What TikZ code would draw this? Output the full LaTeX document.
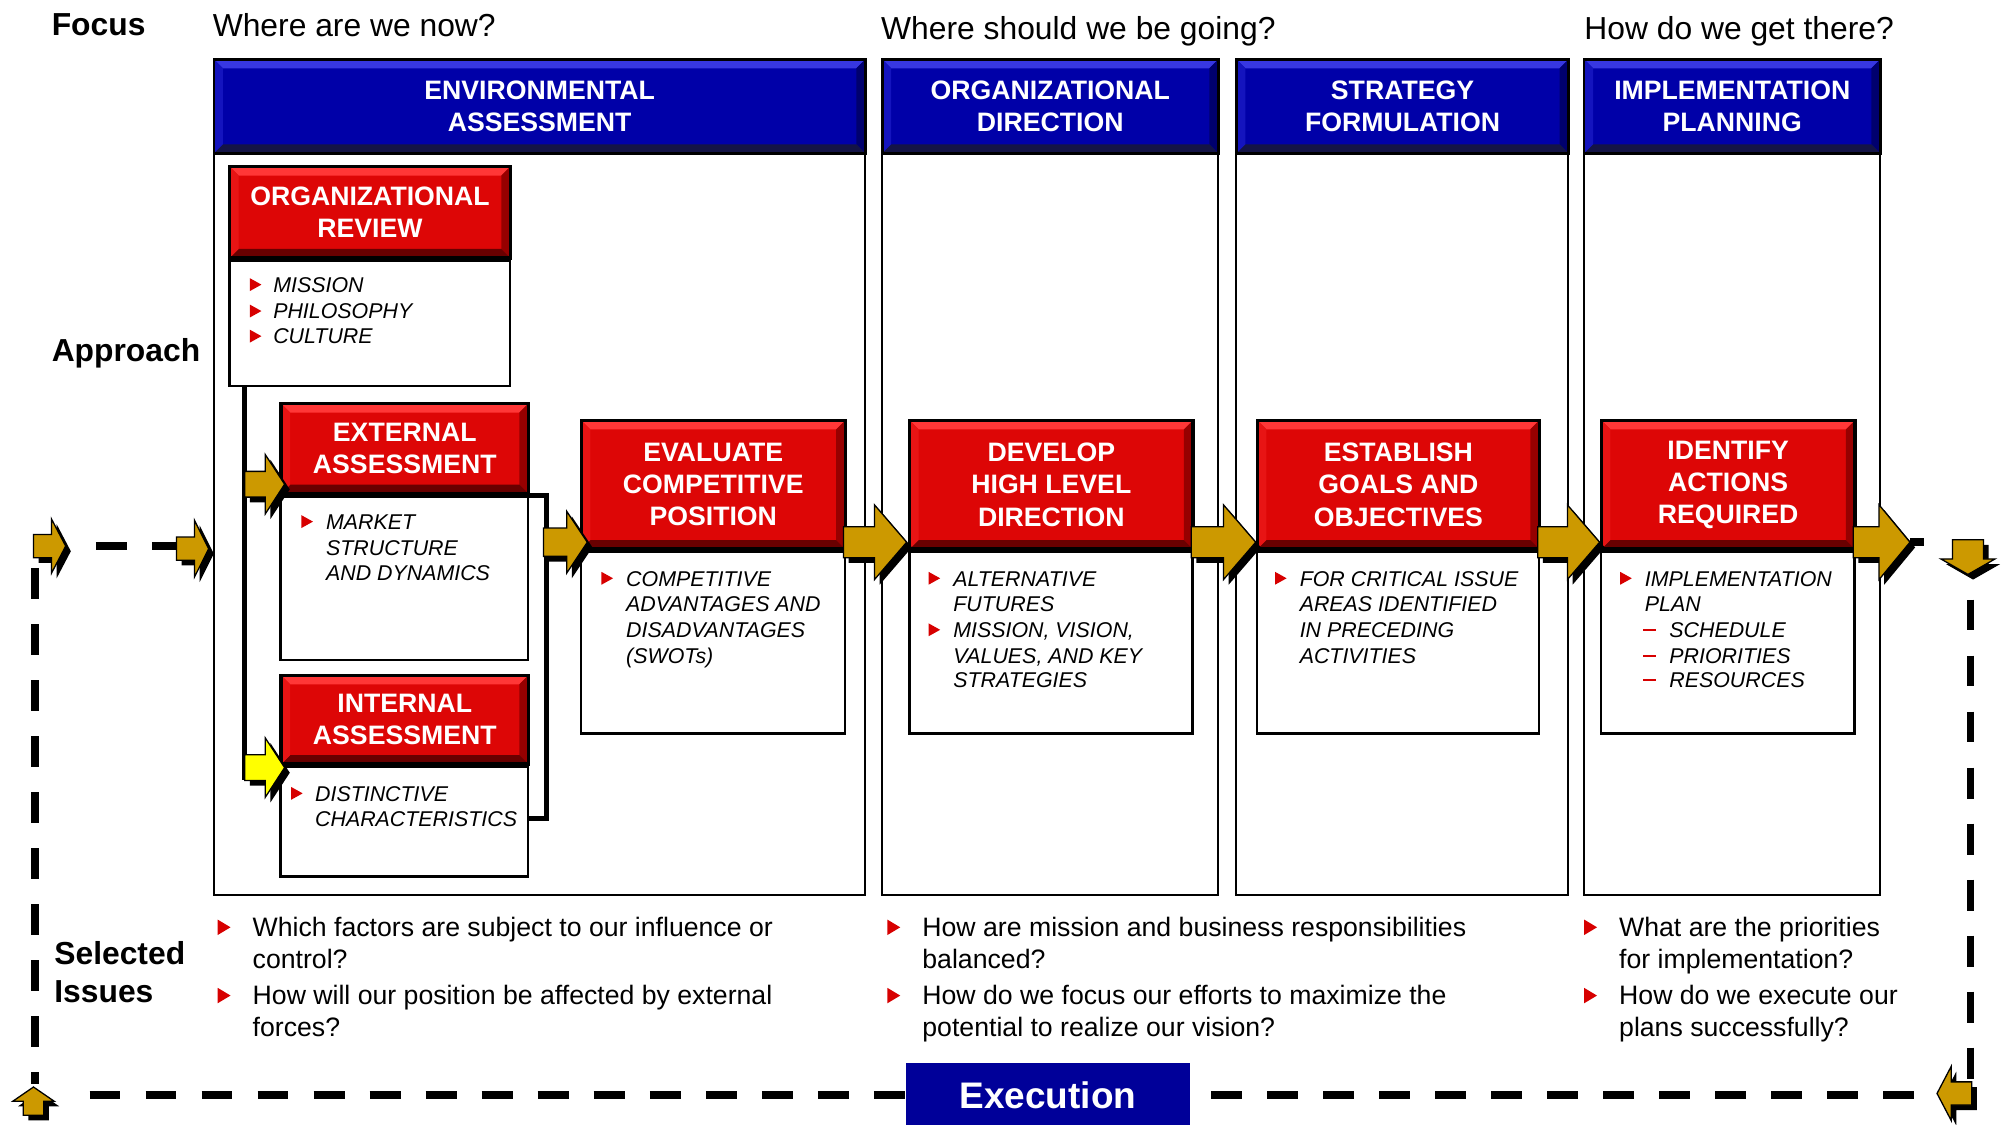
\documentclass[tikz,border=0pt]{standalone}
\usepackage{fontspec}
\setmainfont{Liberation Sans}
\usetikzlibrary{calc}
\definecolor{gold}{RGB}{204,153,0}
\definecolor{yel}{RGB}{255,255,0}
\definecolor{rmain}{RGB}{221,6,6}
\definecolor{rlight}{RGB}{255,55,55}
\definecolor{rright}{RGB}{150,0,0}
\definecolor{rdark}{RGB}{105,0,0}
\definecolor{rleft}{RGB}{232,20,20}
\definecolor{bmain}{RGB}{0,0,168}
\definecolor{blight}{RGB}{55,55,225}
\definecolor{bright}{RGB}{0,0,110}
\definecolor{bdark}{RGB}{20,20,70}
\definecolor{bleft}{RGB}{20,20,190}
\definecolor{bexec}{RGB}{0,0,153}
\definecolor{bullred}{RGB}{215,0,0}
\newcommand{\hdrfont}{\fontsize{20.7}{25}\selectfont\bfseries}
\newcommand{\itemfont}{\fontsize{16.6}{19.8}\selectfont\itshape}
\newcommand{\qfont}{\fontsize{20.7}{25}\selectfont}
\newcommand{\lblfont}{\fontsize{24.7}{30}\selectfont\bfseries}
\newcommand{\topfont}{\fontsize{24.7}{30}\selectfont}
\newcommand{\garrow}[8][gold]{%
  \fill[black,shift={(#2+4,#3+4)},rotate=#4] (0,0) -- (-#8,#7) -- (-#8,#6) -- (-#5,#6) -- (-#5,-#6) -- (-#8,-#6) -- (-#8,-#7) -- cycle;
  \filldraw[fill=#1,draw=black,line width=1,shift={(#2,#3)},rotate=#4] (0,0) -- (-#8,#7) -- (-#8,#6) -- (-#5,#6) -- (-#5,-#6) -- (-#8,-#6) -- (-#8,-#7) -- cycle;}
\newcommand{\tri}[2]{\fill[bullred] (#1,#2-5) -- (#1+9,#2) -- (#1,#2+5) -- cycle;}
\newcommand{\bigtri}[2]{\fill[bullred] (#1,#2-6) -- (#1+10,#2) -- (#1,#2+6) -- cycle;}
\newcommand{\rdash}[2]{\fill[bullred] (#1,#2-0.8) rectangle (#1+10,#2+0.8);}
\tikzset{
  bevel/.style n args={4}{path picture={
    \fill[#1] (path picture bounding box.north west) -- (path picture bounding box.north east) -- ([xshift=-7pt,yshift=-7pt]path picture bounding box.north east) -- ([xshift=7pt,yshift=-7pt]path picture bounding box.north west) -- cycle;
    \fill[#2] (path picture bounding box.north east) -- (path picture bounding box.south east) -- ([xshift=-7pt,yshift=7pt]path picture bounding box.south east) -- ([xshift=-7pt,yshift=-7pt]path picture bounding box.north east) -- cycle;
    \fill[#3] (path picture bounding box.south east) -- (path picture bounding box.south west) -- ([xshift=7pt,yshift=7pt]path picture bounding box.south west) -- ([xshift=-7pt,yshift=7pt]path picture bounding box.south east) -- cycle;
    \fill[#4] (path picture bounding box.south west) -- (path picture bounding box.north west) -- ([xshift=7pt,yshift=-7pt]path picture bounding box.north west) -- ([xshift=7pt,yshift=7pt]path picture bounding box.south west) -- cycle;
  }},
  colbox/.style={draw=black,line width=1.6,fill=white,inner sep=0,anchor=north west},
  bluehdr/.style={draw=black,line width=2,fill=bmain,bevel={blight}{bright}{bdark}{bleft},text=white,font=\hdrfont,align=center,inner sep=0,anchor=north west},
  redhdr/.style={draw=black,line width=2.6,fill=rmain,bevel={rlight}{rright}{rdark}{rleft},text=white,font=\hdrfont,align=center,inner sep=0,anchor=north west},
  bodybox/.style={draw=black,line width=2,fill=white,inner sep=0,anchor=north west},
  itemtxt/.style={font=\itemfont,inner sep=0,anchor=base west},
  qtxt/.style={font=\qfont,inner sep=0,anchor=base west},
  lbl/.style={font=\lblfont,inner sep=0,anchor=base west},
  toptxt/.style={font=\topfont,inner sep=0,anchor=base west},
  conn/.style={line width=4,black},
  dashln/.style={line width=6,black,dash pattern=on 24pt off 19.5pt},
}
\begin{document}
\begin{tikzpicture}[x=1pt,y=-1pt]
\useasboundingbox[fill=white] (0,0) rectangle (1563,873.5);

% column boxes
\node[colbox,minimum width=506,minimum height=576] (cENV) at (165,118) {};
\node[colbox,minimum width=261,minimum height=576] (cORG) at (684,118) {};
\node[colbox,minimum width=258,minimum height=576] (cSTR) at (959,118) {};
\node[colbox,minimum width=230,minimum height=576] (cIMP) at (1229,118) {};
% blue headers
\node[bluehdr,minimum width=506,minimum height=73] (hENV) at (165,45) {ENVIRONMENTAL\\ASSESSMENT};
\node[bluehdr,minimum width=261,minimum height=73] (hORG) at (684,45) {ORGANIZATIONAL\\DIRECTION};
\node[bluehdr,minimum width=258,minimum height=73] (hSTR) at (959,45) {STRATEGY\\FORMULATION};
\node[bluehdr,minimum width=230,minimum height=73] (hIMP) at (1229,45) {IMPLEMENTATION\\PLANNING};

% red boxes
\node[redhdr,minimum width=218,minimum height=71] (rOR) at (177,128) {ORGANIZATIONAL\\REVIEW};
\node[bodybox,minimum width=218,minimum height=97] (bOR) at (rOR.south west) {};
\node[redhdr,minimum width=192,minimum height=70] (rEX) at (217,312) {EXTERNAL\\ASSESSMENT};
\node[bodybox,minimum width=192,minimum height=127] (bEX) at (rEX.south west) {};
\node[redhdr,minimum width=192,minimum height=69] (rIN) at (217,523) {INTERNAL\\ASSESSMENT};
\node[bodybox,minimum width=192,minimum height=85] (bIN) at (rIN.south west) {};
\node[redhdr,minimum width=205,minimum height=100] (rEV) at (450,325) {EVALUATE\\COMPETITIVE\\POSITION};
\node[bodybox,minimum width=205,minimum height=141] (bEV) at (rEV.south west) {};
\node[redhdr,minimum width=220,minimum height=100] (rDV) at (705,325) {DEVELOP\\HIGH LEVEL\\DIRECTION};
\node[bodybox,minimum width=220,minimum height=141] (bDV) at (rDV.south west) {};
\node[redhdr,minimum width=219,minimum height=100] (rES) at (975,325) {ESTABLISH\\GOALS AND\\OBJECTIVES};
\node[bodybox,minimum width=219,minimum height=141] (bES) at (rES.south west) {};
\node[redhdr,minimum width=197,minimum height=100] (rID) at (1242,325) {IDENTIFY\\ACTIONS\\REQUIRED};
\node[bodybox,minimum width=197,minimum height=141] (bID) at (rID.south west) {};

% thick connectors
\coordinate (j0) at ($(bOR.south west)+(13,0)$);
\draw[conn] (j0) -- (190,606);
\draw[conn] (bEX.north east) -- ++(13,0) -- ++(0,251) -- ++(-13,0);

% dashed loop
\draw[dashln,dash phase=24pt] (55,424) -- (138,424);
\draw[dashln,dash pattern=on 11pt off 40pt] (1483,421) -- (1515,421);
\draw[dashln,dash phase=24pt] (1530,446) -- (1530,849);
\draw[dashln,dash phase=25.5pt] (1504,850) -- (924,850);
\draw[dashln,dash phase=26pt] (52,850) -- (703,850);
\draw[dashln] (27,441) -- (27,842);

% gold arrows
\garrow{51}{424}{0}{25}{9}{21}{11}
\garrow{162}{426}{0}{25}{9}{22}{11}
\garrow{221}{376}{0}{31}{10}{23}{15}
\garrow[yel]{221}{596}{0}{31}{10}{23}{15}
\garrow{456}{421}{0}{34}{11}{24}{16}
\garrow{704}{421}{0}{49}{12}{29}{25}
\garrow{975}{421}{0}{50}{12}{29}{25}
\garrow{1242}{421}{0}{48}{12}{29}{25}
\garrow{1483}{421}{0}{44}{12}{29}{24}
\garrow{1528}{446}{-90}{27}{12}{21}{12}
\garrow{1504}{849}{180}{27}{9}{21}{11}
\garrow{26}{844}{90}{22}{8}{16}{11}

% execution
\node[fill=bexec,text=white,font=\fontsize{28.7}{34}\selectfont\bfseries,inner sep=0,minimum width=221,minimum height=50,anchor=north west] (exec) at (703,825) {Execution};

% top texts
\node[lbl] (focus) at (40,27.5) {Focus};
\node[toptxt] (q1) at (165,28.5) {Where are we now?};
\node[toptxt] (q2) at (684,31) {Where should we be going?};
\node[toptxt] (q3) at (1230,31) {How do we get there?};
\node[lbl] (appr) at (40,281) {Approach};
\node[lbl] (sel1) at (42,749) {Selected};
\node[lbl] (sel2) at (42,778) {Issues};

% items: organizational review
\tri{194}{221}\node[itemtxt] at (212,227) {MISSION};
\tri{194}{241.5}\node[itemtxt] at (212,247.5) {PHILOSOPHY};
\tri{194}{261}\node[itemtxt] at (212,267) {CULTURE};
% external
\tri{234}{405}\node[itemtxt] at (253,411) {MARKET};
\node[itemtxt] at (253,431) {STRUCTURE};
\node[itemtxt] at (253,451) {AND DYNAMICS};
% internal
\tri{226}{616}\node[itemtxt] at (244.5,622) {DISTINCTIVE};
\node[itemtxt] at (244.5,642) {CHARACTERISTICS};
% evaluate
\tri{467}{449}\node[itemtxt] at (486,455) {COMPETITIVE};
\node[itemtxt] at (486,475) {ADVANTAGES AND};
\node[itemtxt] at (486,495) {DISADVANTAGES};
\node[itemtxt] at (486,515) {(SWOTs)};
% develop
\tri{721}{449}\node[itemtxt] at (740,455) {ALTERNATIVE};
\node[itemtxt] at (740,475) {FUTURES};
\tri{721}{489}\node[itemtxt] at (740,495) {MISSION, VISION,};
\node[itemtxt] at (740,515) {VALUES, AND KEY};
\node[itemtxt] at (740,534) {STRATEGIES};
% establish
\tri{990}{449}\node[itemtxt] at (1009,455) {FOR CRITICAL ISSUE};
\node[itemtxt] at (1009,475) {AREAS IDENTIFIED};
\node[itemtxt] at (1009,495) {IN PRECEDING};
\node[itemtxt] at (1009,515) {ACTIVITIES};
% identify
\tri{1258}{449}\node[itemtxt] at (1277,455) {IMPLEMENTATION};
\node[itemtxt] at (1277,475) {PLAN};
\rdash{1276}{489}\node[itemtxt] at (1296,495) {SCHEDULE};
\rdash{1276}{509}\node[itemtxt] at (1296,515) {PRIORITIES};
\rdash{1276}{528}\node[itemtxt] at (1296,534) {RESOURCES};

% selected issues
\bigtri{169}{720}\node[qtxt] at (196,727) {Which factors are subject to our influence or};
\node[qtxt] at (196,752) {control?};
\bigtri{169}{773}\node[qtxt] at (196,780) {How will our position be affected by external};
\node[qtxt] at (196,805) {forces?};
\bigtri{689}{720}\node[qtxt] at (716,727) {How are mission and business responsibilities};
\node[qtxt] at (716,752) {balanced?};
\bigtri{689}{773}\node[qtxt] at (716,780) {How do we focus our efforts to maximize the};
\node[qtxt] at (716,805) {potential to realize our vision?};
\bigtri{1230}{720}\node[qtxt] at (1257,727) {What are the priorities};
\node[qtxt] at (1257,752) {for implementation?};
\bigtri{1230}{773}\node[qtxt] at (1257,780) {How do we execute our};
\node[qtxt] at (1257,805) {plans successfully?};
\end{tikzpicture}
\end{document}
